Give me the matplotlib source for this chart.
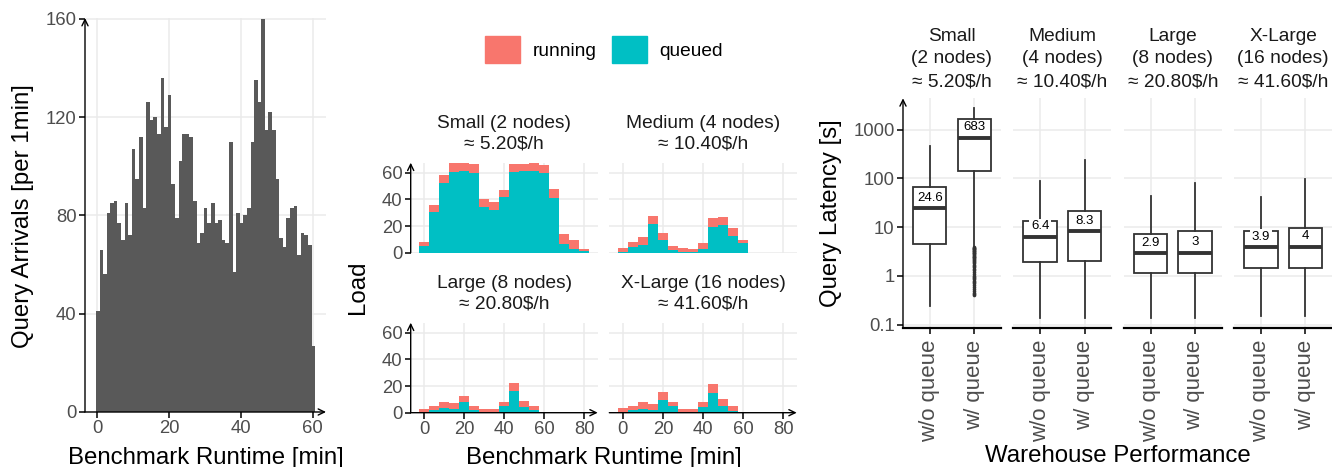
import matplotlib
matplotlib.use("Agg")
import matplotlib.pyplot as plt
from matplotlib.patches import Patch
from matplotlib.ticker import NullLocator

plt.rcParams["font.family"] = ["Liberation Sans", "DejaVu Sans"]

W, H = 1332, 467

# ---- left panel: query arrivals per minute ----
arrival_minute = list(range(61))
arrival_count = [41, 66, 56, 81, 85, 86, 77, 70, 85, 72, 107, 95, 112, 83, 126, 119,
                 120, 113, 136, 116, 129, 93, 79, 102, 113, 113, 112, 86, 69, 73, 83,
                 77, 85, 77, 78, 70, 69, 110, 57, 81, 77, 80, 83, 110, 135, 126, 160,
                 115, 122, 115, 95, 71, 67, 79, 83, 84, 64, 73, 72, 68, 27]

# ---- middle panel: load per warehouse size (5 min bins) ----
load_minute = list(range(0, 85, 5))
sizes = ["Small", "Medium", "Large", "X-Large"]
nodes = [2, 4, 8, 16]
prices = ["5.20", "10.40", "20.80", "41.60"]

queued_small = [5.25, 30.75, 52.25, 60.75, 61.5, 59.75, 34.25, 32.25, 41.75, 60.75, 61.5,
                61.5, 59.75, 41, 6.5, 2.5, 1.25]
running_small = [2.75, 5, 5.75, 6.5, 5.75, 6.75, 6, 5.75, 5.25, 5.75, 5, 5.75, 6, 6.5,
                 7.5, 7, 1.5]
queued_medium = [0.75, 4.5, 6, 21.75, 9.75, 2.25, 0.75, 0.75, 3, 19.5, 21, 12.75, 7.25,
                 0, 0, 0, 0]
running_medium = [3, 3.75, 6, 5.75, 5, 3, 3, 2.25, 4.25, 6.5, 5.75, 6, 2.25, 0, 0, 0, 0]
queued_large = [0, 2.25, 3.75, 3, 8.25, 2.25, 0, 0, 5.25, 16.25, 4.5, 2.25, 0, 0, 0, 0, 0]
running_large = [2.75, 3, 4.25, 4.25, 4.25, 3, 2.75, 2.75, 2.75, 6, 4.25, 3, 0, 0, 0, 0, 0]
queued_xlarge = [0, 2.25, 3, 2.25, 9.75, 5.25, 0, 0, 4.25, 14.75, 5.25, 1.25, 0, 0, 0, 0, 0]
running_xlarge = [3.75, 3, 5, 4.25, 5.75, 2.75, 2.75, 2.75, 3.75, 6.75, 5, 4, 0.5, 0, 0, 0, 0]

queued = [queued_small, queued_medium, queued_large, queued_xlarge]
running = [running_small, running_medium, running_large, running_xlarge]

# ---- right panel: latency box stats [s] (whislo, q1, med, q3, whishi) ----
queue_modes = ["w/o queue", "w/ queue"]
stats_small = [(0.238, 4.43, 24.6, 68.2, 469), (3.95, 145.5, 683, 1683, 2793)]
stats_medium = [(0.137, 1.89, 6.4, 13.6, 89), (0.137, 2.01, 8.3, 21.9, 241)]
stats_large = [(0.134, 1.16, 2.9, 7.1, 44.5), (0.134, 1.16, 3.0, 8.3, 79.8)]
stats_xlarge = [(0.148, 1.47, 3.9, 8.47, 42.4), (0.148, 1.47, 4.0, 9.46, 98)]
box_stats = [stats_small, stats_medium, stats_large, stats_xlarge]
outliers_small_wq = [3.9, 3.8, 3.7, 3.6, 3.5, 3.4, 3.3, 3.2, 3.1, 3.0, 2.9, 2.8, 2.7, 2.6,
                     2.5, 2.4, 2.3, 2.2, 2.1, 2.0, 1.9, 1.8, 1.7, 1.6, 1.5, 1.4, 1.3, 1.2,
                     1.1, 1.0, 0.95, 0.9, 0.85, 0.8, 0.75, 0.7, 0.65, 0.6, 0.55, 0.5, 0.45,
                     0.42, 0.4]

RED = "#F8766D"
TEAL = "#00BFC4"
GRID = "#EBEBEB"
TICKC = "#4D4D4D"
TICK_FS = 13.3
TITLE_FS = 17.3
STRIP_FS = 13.8


def add_axes(fig, left, top, right, bottom):
    return fig.add_axes([left / W, 1 - bottom / H, (right - left) / W, (bottom - top) / H])


def arrow(ax, start, end, lw=1.0):
    ax.annotate("", xy=end, xytext=start, xycoords="axes fraction",
                arrowprops=dict(arrowstyle="->,head_length=0.45,head_width=0.22",
                                lw=lw, color="black", shrinkA=0, shrinkB=0,
                                mutation_scale=10),
                annotation_clip=False)


def base_style(ax):
    for s in ax.spines.values():
        s.set_visible(False)
    ax.grid(True, color=GRID, lw=1.1)
    ax.set_axisbelow(True)
    ax.tick_params(length=4, width=1.1, color="black", labelcolor=TICKC,
                   labelsize=TICK_FS, pad=2)


fig = plt.figure(figsize=(W / 100, H / 100), dpi=100)

# ---------------- left ----------------
ax = add_axes(fig, 85, 18, 326, 412)
base_style(ax)
ax.bar([m - 0.3 for m in arrival_minute], arrival_count, width=1.0, align="edge",
       color="#595959", lw=0)
ax.set_xlim(-3.34, 63.7)
ax.set_ylim(0, 160.4)
ax.set_xticks([0, 20, 40, 60])
ax.set_yticks([0, 40, 80, 120, 160])
arrow(ax, (0, 0), (0, 1))
arrow(ax, (0, 0), (1, 0))
fig.text(23 / W, 1 - 216 / H, "Query Arrivals [per 1min]", rotation=90,
         ha="center", va="center", fontsize=TITLE_FS)
fig.text(205.5 / W, 1 - 458 / H, "Benchmark Runtime [min]", ha="center",
         va="center", fontsize=TITLE_FS)

# ---------------- middle ----------------
cols = [(410.7, 597.7), (609.3, 796.7)]
rows = [(162.7, 252.7), (322.7, 412.7)]
for i in range(4):
    r, c = divmod(i, 2)
    ax = add_axes(fig, cols[c][0], rows[r][0], cols[c][1], rows[r][1])
    base_style(ax)
    ax.bar(load_minute, queued[i], width=5, color=TEAL, lw=0)
    ax.bar(load_minute, running[i], width=5, bottom=queued[i], color=RED, lw=0)
    ax.set_xlim(-6.75, 86.75)
    ax.set_ylim(0, 67.5)
    ax.set_xticks([0, 20, 40, 60, 80])
    ax.set_yticks([0, 20, 40, 60])
    if c == 0:
        arrow(ax, (0, 0), (0, 1))
    else:
        ax.tick_params(left=False, labelleft=False)
    if r == 1:
        arrow(ax, (0, 0), (1, 0))
    else:
        ax.tick_params(bottom=False, labelbottom=False)
    ax.text(0.5, 1.322, f"{sizes[i]} ({nodes[i]} nodes)\n\u2248 {prices[i]}$/h",
            transform=ax.transAxes, ha="center", va="center", fontsize=STRIP_FS,
            color="#1A1A1A", linespacing=1.3)

fig.text(357.7 / W, 1 - 287.5 / H, "Load", rotation=90, ha="center", va="center",
         fontsize=TITLE_FS)
fig.text(603.5 / W, 1 - 458 / H, "Benchmark Runtime [min]", ha="center",
         va="center", fontsize=TITLE_FS)
fig.legend(handles=[Patch(color=RED, label="running"), Patch(color=TEAL, label="queued")],
           loc="center", bbox_to_anchor=(604 / W, 1 - 49.5 / H), ncol=2, frameon=False,
           fontsize=STRIP_FS, handlelength=1.83, handleheight=1.83, handletextpad=0.68,
           columnspacing=0.77, borderpad=0, borderaxespad=0)

# ---------------- right ----------------
panel_w, gap = 97.9, 12.5
for i in range(4):
    left = 903 + i * (panel_w + gap)
    ax = add_axes(fig, left, 98.3, left + panel_w, 328.3)
    base_style(ax)
    ax.set_yscale("log")
    stats = []
    for j, (lo, q1, med, q3, hi) in enumerate(box_stats[i]):
        fl = outliers_small_wq if (i == 0 and j == 1) else []
        stats.append(dict(whislo=lo, q1=q1, med=med, q3=q3, whishi=hi, fliers=fl))
    ax.bxp(stats, positions=[1, 2], widths=0.75, showcaps=False, patch_artist=True,
           boxprops=dict(facecolor="white", edgecolor="#333333", lw=1.3),
           medianprops=dict(color="#333333", lw=2.8, solid_capstyle="butt"),
           whiskerprops=dict(color="#333333", lw=1.3),
           flierprops=dict(marker="o", markersize=2.6, markerfacecolor="#333333",
                           markeredgecolor="none"))
    for j, st in enumerate(stats):
        ax.annotate(f"{st['med']:.3g}", xy=(j + 1, st["med"]), xytext=(0, 3.2),
                    textcoords="offset points", ha="center", va="bottom", fontsize=9.5,
                    bbox=dict(boxstyle="square,pad=0.12", fc="white", ec="none"),
                    zorder=5)
    ax.set_xlim(0.4, 2.6)
    ax.set_ylim(10 ** -1.075, 10 ** 3.645)
    ax.set_yticks([0.1, 1, 10, 100, 1000])
    ax.set_yticklabels(["0.1", "1", "10", "100", "1000"])
    ax.yaxis.set_minor_locator(NullLocator())
    ax.set_xticks([1, 2])
    ax.set_xticklabels(queue_modes, rotation=90, fontsize=16)
    ax.tick_params(axis="x", pad=4)
    ax.axhline(ax.get_ylim()[0], color="black", lw=1.6, clip_on=False)
    ax.grid(True, color=GRID, lw=1.1)
    if i == 0:
        arrow(ax, (0, 0), (0, 1))
    else:
        ax.tick_params(left=False, labelleft=False)
    ax.text(0.5, 1.171, f"{sizes[i]}\n({nodes[i]} nodes)\n\u2248 {prices[i]}$/h",
            transform=ax.transAxes, ha="center", va="center", fontsize=STRIP_FS,
            color="#1A1A1A", linespacing=1.45)

fig.text(830.5 / W, 1 - 213 / H, "Query Latency [s]", rotation=90, ha="center",
         va="center", fontsize=TITLE_FS)
fig.text(1118 / W, 1 - 456 / H, "Warehouse Performance", ha="center", va="center",
         fontsize=TITLE_FS)

fig.savefig("out.png", dpi=100)
